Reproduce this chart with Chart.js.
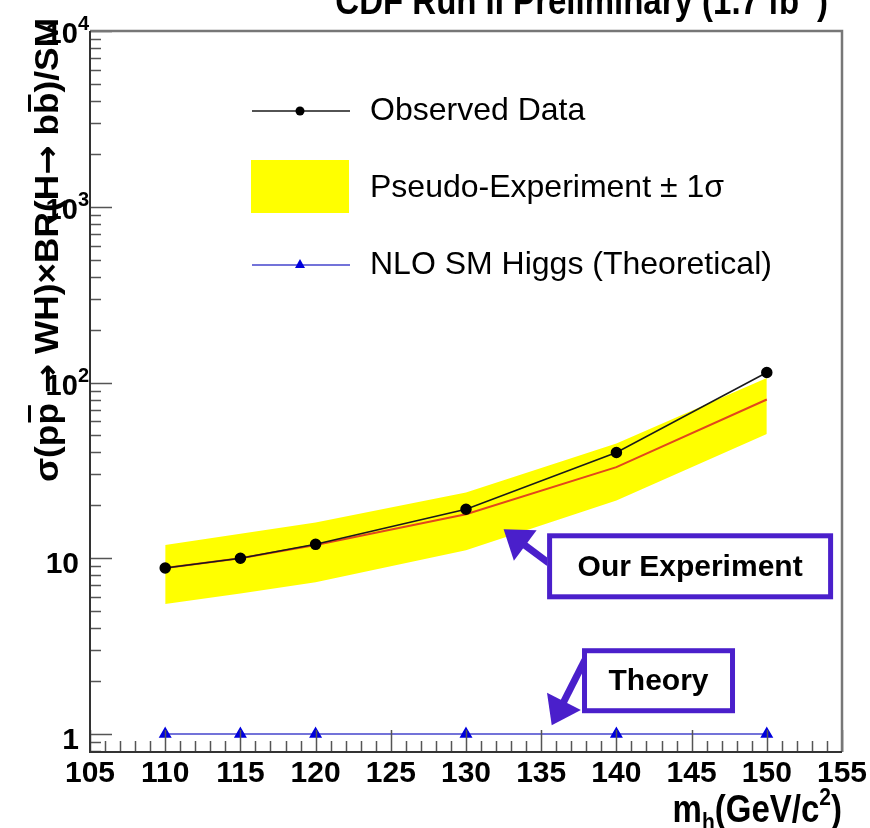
<!DOCTYPE html>
<html>
<head>
<meta charset="utf-8">
<script src="https://cdn.jsdelivr.net/npm/chart.js@4/dist/chart.umd.min.js"></script>
<style>
  html, body { margin: 0; padding: 0; background: #fff; }
  canvas { display: block; }
</style>
</head>
<body>
<canvas id="limits" width="870" height="828"></canvas>
<script>
const masses = [110, 115, 120, 130, 140, 150];
const observed = [8.8, 10.0, 12.0, 19.0, 40, 114];
const expected = [8.8, 10.0, 11.9, 17.8, 33, 80];
const bandUpper = [11.9, 13.8, 16.0, 23.7, 45, 106];
const bandLower = [5.5, 6.3, 7.3, 11.1, 21.3, 51];
const theory = [1, 1, 1, 1, 1, 1];

const xTickLabels = [105, 110, 115, 120, 125, 130, 135, 140, 145, 150, 155];
const yTickLabels = [1, 10, 100, 1000, 10000];

const FONT = "'Liberation Sans', Arial, Helvetica, sans-serif";
const SYM_FONT = "'DejaVu Sans', sans-serif";
const PURPLE = '#4a1fcb';

// callout boxes, placed in data coordinates
const callouts = [
  { text: 'Our Experiment', x: 144.9, y: 9.0, w: 286, h: 66,
    tail: { x: 135.5, y: 9.4 }, tip: { x: 132.5, y: 14.6 } },
  { text: 'Theory', x: 142.8, y: 2.01, w: 153, h: 65,
    tail: { x: 137.9, y: 2.63 }, tip: { x: 135.7, y: 1.12 } }
];

const pts = arr => masses.map((m, i) => ({ x: m, y: arr[i] }));

function drawArrow(ctx, x0, y0, x1, y1) {
  const dx = x1 - x0, dy = y1 - y0;
  const len = Math.hypot(dx, dy);
  const ux = dx / len, uy = dy / len;
  const headLen = 27, headHalf = 19;
  const bx = x1 - ux * headLen, by = y1 - uy * headLen;
  ctx.strokeStyle = PURPLE;
  ctx.lineWidth = 7;
  ctx.beginPath();
  ctx.moveTo(x0, y0);
  ctx.lineTo(bx + ux * 4, by + uy * 4);
  ctx.stroke();
  ctx.fillStyle = PURPLE;
  ctx.beginPath();
  ctx.moveTo(x1, y1);
  ctx.lineTo(bx - uy * headHalf, by + ux * headHalf);
  ctx.lineTo(bx + uy * headHalf, by - ux * headHalf);
  ctx.closePath();
  ctx.fill();
}

// draws a list of [text, sizePx, dy] runs; returns total width
function runs(ctx, parts, x, y, weight, align) {
  let total = 0;
  parts.forEach(p => {
    ctx.font = weight + ' ' + p[1] + 'px ' + FONT;
    total += ctx.measureText(p[0]).width;
  });
  let cx = align === 'right' ? x - total : align === 'center' ? x - total / 2 : x;
  ctx.textAlign = 'left';
  ctx.textBaseline = 'alphabetic';
  parts.forEach(p => {
    ctx.font = weight + ' ' + p[1] + 'px ' + FONT;
    ctx.fillText(p[0], cx, y + (p[2] || 0));
    cx += ctx.measureText(p[0]).width;
  });
  return total;
}

const decor = {
  id: 'decor',
  afterDraw(chart) {
    const { ctx, chartArea: a, scales: { x, y } } = chart;
    ctx.save();

    // ticks pointing inward, ROOT style
    ctx.strokeStyle = '#555';
    ctx.lineWidth = 1.5;
    ctx.beginPath();
    for (let v = x.min; v <= x.max; v++) {
      const px = Math.round(x.getPixelForValue(v)) + 0.5;
      const len = v % 5 === 0 ? 22 : 11;
      ctx.moveTo(px, a.bottom);
      ctx.lineTo(px, a.bottom - len);
    }
    for (let e = -1; e <= 4; e++) {
      for (let m = 1; m <= 9; m++) {
        const v = m * Math.pow(10, e);
        if (v < y.min || v > y.max) continue;
        const py = Math.round(y.getPixelForValue(v)) + 0.5;
        ctx.moveTo(a.left, py);
        ctx.lineTo(a.left + (m === 1 ? 22 : 11), py);
      }
    }
    ctx.stroke();

    // frame
    ctx.lineWidth = 2.5;
    ctx.strokeStyle = '#777';
    ctx.beginPath();
    ctx.moveTo(a.left, a.top);
    ctx.lineTo(a.right, a.top);
    ctx.lineTo(a.right, a.bottom);
    ctx.stroke();
    ctx.strokeStyle = '#333';
    ctx.lineWidth = 2;
    ctx.beginPath();
    ctx.moveTo(a.left, a.top);
    ctx.lineTo(a.left, a.bottom);
    ctx.lineTo(a.right, a.bottom);
    ctx.stroke();

    ctx.fillStyle = '#000';
    // x tick labels
    ctx.font = 'bold 30px ' + FONT;
    ctx.textAlign = 'center';
    ctx.textBaseline = 'alphabetic';
    xTickLabels.forEach(v => ctx.fillText(String(v), x.getPixelForValue(v), 782));

    // y tick labels
    yTickLabels.forEach(v => {
      const py = y.getPixelForValue(v);
      if (v < 100) {
        runs(ctx, [[String(v), 30]], 79, py + 15, 'bold', 'right');
      } else {
        const exp = String(Math.round(Math.log10(v)));
        runs(ctx, [['10', 29], [exp, 20, -13]], 89, py + 12, 'bold', 'right');
      }
    });

    // x axis title
    ctx.save();
    ctx.translate(0, 822);
    ctx.scale(1, 1.18);
    runs(ctx, [['m', 33], ['h', 21, 7], ['(GeV/c', 33], ['2', 21, -14], [')', 33]], 842, 0, 'bold', 'right');
    ctx.restore();

    // y axis title (rotated); arrows come from DejaVu, which has the glyph
    ctx.save();
    ctx.translate(58, 482);
    ctx.rotate(-Math.PI / 2);
    const segs = [
      ['σ(p', 0, FONT], ['p', 1, FONT], [' ', 0, FONT], ['→', 0, SYM_FONT],
      [' WH)×BR(H', 0, FONT], ['→', 0, SYM_FONT], [' b', 0, FONT], ['b', 1, FONT],
      [')/SM', 0, FONT]
    ];
    let tw = 0;
    segs.forEach(s => {
      ctx.font = 'bold 33px ' + s[2];
      tw += ctx.measureText(s[0]).width;
    });
    ctx.scale(464 / tw, 1);
    ctx.textAlign = 'left';
    ctx.textBaseline = 'alphabetic';
    let cx = 0;
    segs.forEach(s => {
      ctx.font = 'bold 33px ' + s[2];
      const w = ctx.measureText(s[0]).width;
      ctx.fillText(s[0], cx, 0);
      if (s[1]) ctx.fillRect(cx + 2, -30, w - 4, 3);
      cx += w;
    });
    ctx.restore();

    // title, cut by the top edge like the original
    ctx.save();
    ctx.translate(0, 14);
    ctx.scale(1, 1.15);
    runs(ctx, [['CDF Run II Preliminary (1.7 fb', 33], ['-1', 20, -13], [')', 33]], 828, 0, 'bold', 'right');
    ctx.restore();

    // legend
    const ds = chart.data.datasets;
    const obs = ds.find(d => d.id === 'obs');
    const band = ds.find(d => d.id === 'band');
    const th = ds.find(d => d.id === 'theory');
    ctx.font = '32px ' + FONT;
    ctx.textAlign = 'left';
    ctx.textBaseline = 'middle';

    ctx.strokeStyle = obs.borderColor;
    ctx.lineWidth = 1.5;
    ctx.beginPath();
    ctx.moveTo(252, 111);
    ctx.lineTo(350, 111);
    ctx.stroke();
    ctx.fillStyle = obs.pointBackgroundColor;
    ctx.beginPath();
    ctx.arc(300, 111, 4.5, 0, Math.PI * 2);
    ctx.fill();
    ctx.fillStyle = '#000';
    ctx.fillText(obs.label, 370, 111);

    ctx.fillStyle = band.backgroundColor;
    ctx.fillRect(251, 160, 98, 53);
    ctx.fillStyle = '#000';
    ctx.fillText(band.label, 370, 188);

    ctx.strokeStyle = th.borderColor;
    ctx.lineWidth = 1.5;
    ctx.beginPath();
    ctx.moveTo(252, 265);
    ctx.lineTo(350, 265);
    ctx.stroke();
    ctx.fillStyle = th.pointBackgroundColor;
    ctx.beginPath();
    ctx.moveTo(300, 259);
    ctx.lineTo(305, 268);
    ctx.lineTo(295, 268);
    ctx.closePath();
    ctx.fill();
    ctx.fillStyle = '#000';
    ctx.fillText(th.label, 370, 265);

    // callouts with arrows
    callouts.forEach(c => {
      const bx = x.getPixelForValue(c.x), by = y.getPixelForValue(c.y);
      drawArrow(ctx, x.getPixelForValue(c.tail.x), y.getPixelForValue(c.tail.y),
        x.getPixelForValue(c.tip.x), y.getPixelForValue(c.tip.y));
      ctx.fillStyle = '#fff';
      ctx.fillRect(bx - c.w / 2, by - c.h / 2, c.w, c.h);
      ctx.strokeStyle = PURPLE;
      ctx.lineWidth = 5;
      ctx.strokeRect(bx - c.w / 2 + 2.5, by - c.h / 2 + 2.5, c.w - 5, c.h - 5);
      ctx.fillStyle = '#000';
      ctx.font = 'bold 30px ' + FONT;
      ctx.textAlign = 'center';
      ctx.textBaseline = 'middle';
      ctx.fillText(c.text, bx, by + 1);
    });

    ctx.restore();
  }
};

new Chart(document.getElementById('limits'), {
  type: 'line',
  data: {
    datasets: [
      {
        id: 'band', label: 'Pseudo-Experiment ± 1σ',
        data: pts(bandUpper), borderWidth: 0, pointRadius: 0,
        backgroundColor: '#ffff00', borderColor: '#ffff00',
        fill: '+1', order: 5
      },
      {
        id: 'bandLow', label: 'lower',
        data: pts(bandLower), borderWidth: 0, pointRadius: 0,
        borderColor: '#ffff00', fill: false, order: 6
      },
      {
        id: 'exp', label: 'Expected',
        data: pts(expected), borderColor: '#e2471c', borderWidth: 2,
        pointRadius: 0, fill: false, order: 3
      },
      {
        id: 'obs', label: 'Observed Data',
        data: pts(observed), borderColor: '#1a1a1a', borderWidth: 1.5,
        pointRadius: 5, pointBackgroundColor: '#000', pointBorderColor: '#000',
        fill: false, order: 2
      },
      {
        id: 'theory', label: 'NLO SM Higgs (Theoretical)',
        data: pts(theory), borderColor: '#4545cc', borderWidth: 1.5,
        pointStyle: 'triangle', pointRadius: 6,
        pointBackgroundColor: '#0000dd', pointBorderColor: '#0000dd',
        fill: false, order: 1
      }
    ]
  },
  options: {
    responsive: false,
    devicePixelRatio: 1,
    animation: false,
    layout: { padding: { top: 31, right: 28, left: 0, bottom: 0 } },
    plugins: {
      legend: { display: false },
      tooltip: { enabled: false },
      title: { display: false }
    },
    scales: {
      x: {
        type: 'linear', min: 105, max: 155,
        grid: { display: false }, border: { display: false },
        ticks: { display: false },
        afterFit: s => { s.height = 76; }
      },
      y: {
        type: 'logarithmic', min: 0.79, max: 10000,
        grid: { display: false }, border: { display: false },
        ticks: { display: false },
        afterFit: s => { s.width = 90; }
      }
    }
  },
  plugins: [decor]
});
</script>
</body>
</html>
